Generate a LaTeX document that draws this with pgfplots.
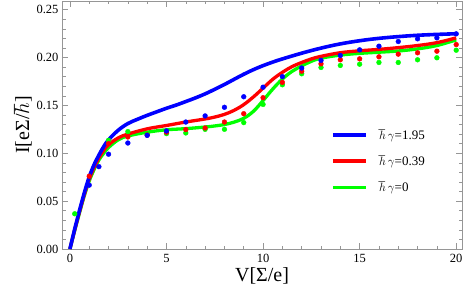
\documentclass[border=0pt]{standalone}
\usepackage{pgfplots}
\pgfplotsset{compat=1.18}
\usepackage{fontspec}
\setmainfont{Liberation Serif}
\definecolor{frm}{RGB}{150,150,150}
\definecolor{cblue}{RGB}{0,0,255}
\definecolor{cred}{RGB}{255,0,0}
\definecolor{cgreen}{RGB}{0,255,0}
\begin{document}
\begin{tikzpicture}[x=1pt,y=1pt]
\useasboundingbox (-62,-54) rectangle (401,249);
\begin{axis}[
  at={(0,0)}, anchor=south west,
  scale only axis, width=400pt, height=248pt,
  xmin=-0.41, xmax=20.3, ymin=0, ymax=0.259,
  axis line style={frm, line width=0.6pt},
  xtick={0,5,10,15,20}, minor xtick={1,2,3,4,6,7,8,9,11,12,13,14,16,17,18,19},
  ytick={0,0.05,0.1,0.15,0.2,0.25},
  minor ytick={0.01,0.02,0.03,0.04,0.06,0.07,0.08,0.09,0.11,0.12,0.13,0.14,0.16,0.17,0.18,0.19,0.21,0.22,0.23,0.24},
  tick align=inside,
  major tick length=6pt, minor tick length=3.5pt,
  tick style={frm, line width=0.5pt},
  xticklabel style={font=\fontsize{12.5}{14}\selectfont, yshift=-2pt},
  yticklabel style={font=\fontsize{12.5}{14}\selectfont, /pgf/number format/fixed, /pgf/number format/fixed zerofill, /pgf/number format/precision=2},
  scaled y ticks=false,
  /pgf/number format/assume math mode=true,
  xlabel={V[Σ/e]}, ylabel={I[eΣ/$\hbar$]},
  label style={font=\fontsize{20}{22}\selectfont},
  xlabel style={yshift=2pt},
  ylabel style={yshift=-2pt},
  legend style={draw=none, fill=none, at={(rel axis cs:0.665,0.50)}, anchor=north west,
    font=\fontsize{13}{15}\selectfont, row sep=11pt, column sep=9pt},
  legend cell align=left,
  legend image code/.code={\draw[#1, line width=3.5pt] (0pt,0pt) -- (33pt,0pt);},
  reverse legend,
  clip=true,
]
% curves
\addplot[cgreen, line width=3.3pt, smooth, tension=0.6] coordinates {
(0,0) (0.25,0.0195) (0.5,0.038) (0.75,0.056) (1,0.071) (1.25,0.083) (1.5,0.093) (1.75,0.1) (2,0.106) (2.5,0.114) (3,0.118) (4,0.122) (5,0.1245) (6,0.1257) (7,0.1274) (7.5,0.1285) (8,0.130) (8.5,0.1325) (9,0.1365) (9.5,0.1438) (10,0.155) (10.5,0.167) (11,0.1775) (11.5,0.1855) (12,0.1912) (12.5,0.1960) (13,0.1993) (14,0.2025) (15,0.2043) (16,0.2055) (17,0.2068) (18,0.209) (19,0.2125) (20,0.2184)};
\addlegendentry{$\hbar\,\gamma$=0}
\addplot[cred, line width=3.3pt, smooth, tension=0.6] coordinates {
(0,0) (0.25,0.020) (0.5,0.039) (0.75,0.057) (1,0.073) (1.25,0.085) (1.5,0.095) (1.75,0.103) (2,0.109) (2.5,0.116) (3,0.120) (4,0.1255) (5,0.129) (6,0.1326) (7,0.1358) (7.5,0.1378) (8,0.1406) (8.5,0.1448) (9,0.1508) (9.5,0.1588) (10,0.168) (10.5,0.1772) (11,0.1845) (11.5,0.1905) (12,0.1948) (12.5,0.1985) (13,0.2012) (14,0.205) (15,0.207) (16,0.2085) (17,0.2103) (18,0.2125) (19,0.2155) (20,0.2205)};
\addlegendentry{$\hbar\,\gamma$=0.39}
\addplot[cblue, line width=3.6pt, smooth, tension=0.6] coordinates {
(0,0) (0.25,0.021) (0.5,0.0406) (0.75,0.059) (1,0.0753) (1.25,0.088) (1.5,0.098) (1.75,0.107) (2,0.114) (2.5,0.124) (3,0.131) (3.5,0.1355) (4,0.1396) (4.5,0.1433) (5,0.147) (5.5,0.1503) (6,0.154) (6.5,0.1578) (7,0.162) (7.5,0.1668) (8,0.1718) (8.5,0.1772) (9,0.1825) (9.5,0.1873) (10,0.1915) (10.5,0.1952) (11,0.1985) (12,0.2045) (13,0.2098) (14,0.2142) (15,0.2175) (16,0.2200) (17,0.2218) (18,0.2232) (19,0.2241) (20,0.2248)};
\addlegendentry{$\hbar\,\gamma$=1.95}
% dots
\addplot[only marks, mark=*, mark size=2.4pt, cgreen, forget plot] coordinates {
(0.25,0.0368) (2,0.1135) (3,0.1226) (4,0.120) (5,0.1205) (6,0.1212) (7,0.125) (8,0.125) (9,0.132) (10,0.151) (11,0.1715) (12,0.183) (13,0.1896) (14,0.1917) (15,0.193) (16,0.1948) (17,0.1948) (18,0.1976) (19,0.1997) (20,0.2076)};
\addplot[only marks, mark=*, mark size=2.4pt, cred, forget plot] coordinates {
(1,0.076) (2,0.110) (3,0.117) (4,0.119) (5,0.122) (6,0.1247) (7,0.1264) (8,0.1326) (9,0.1413) (10,0.158) (11,0.174) (12,0.1857) (13,0.1934) (14,0.1976) (15,0.1986) (16,0.2007) (17,0.2035) (18,0.2049) (19,0.2066) (20,0.2135)};
\addplot[only marks, mark=*, mark size=2.4pt, cblue, forget plot] coordinates {
(1,0.0667) (1.5,0.086) (2,0.099) (3,0.1107) (4,0.1187) (5,0.1233) (6,0.1326) (7,0.139) (8,0.148) (9,0.159) (10,0.169) (11,0.180) (12,0.189) (13,0.197) (14,0.2021) (15,0.208) (16,0.2118) (17,0.2167) (18,0.2195) (19,0.2205) (20,0.2247)};
\end{axis}
\end{tikzpicture}
\end{document}
